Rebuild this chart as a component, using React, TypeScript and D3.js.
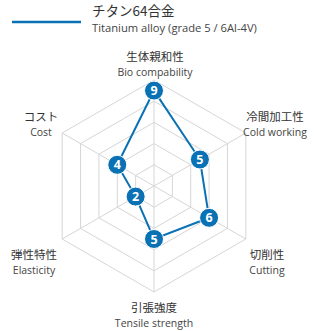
import React from "react";
import * as d3 from "d3";

const axesJa = ["生体親和性", "冷間加工性", "切削性", "引張強度", "弾性特性", "コスト"];
const axesEn = ["Bio compability", "Cold working", "Cutting", "Tensile strength", "Elasticity", "Cost"];
const values = [9, 5, 6, 5, 2, 4];
const gridLevels = [2, 4, 6, 8, 10];
const seriesJa = "チタン64合金";
const seriesEn = "Titanium alloy (grade 5 / 6Al-4V)";

const width = 320;
const height = 331;
const cx = 154;
const cy = 186;
const blue = "#0a71b4";
const font = "'Noto Sans CJK JP', 'Noto Sans', sans-serif";
const fontEn = "'Open Sans', 'Noto Sans', sans-serif";

// label positions (baseline of the Japanese line)
const labelPos = [
  { x: 155, y: 61 },
  { x: 275, y: 121 },
  { x: 267, y: 259 },
  { x: 154, y: 312 },
  { x: 34, y: 259 },
  { x: 41, y: 121 },
];

function App() {
  const r = d3.scaleLinear().domain([0, 10]).range([0, 106]);
  const angle = d3
    .scaleLinear()
    .domain([0, axesJa.length])
    .range([0, 2 * Math.PI]);

  const radial = d3
    .lineRadial<number>()
    .angle((d, i) => angle(i))
    .radius((d) => r(d))
    .curve(d3.curveLinearClosed);

  const pt = (v: number, i: number) => [
    Math.sin(angle(i)) * r(v),
    -Math.cos(angle(i)) * r(v),
  ];

  return (
    <svg
      width={width}
      height={height}
      style={{ position: "absolute", left: 0, top: 0, background: "#fff" }}
      fontFamily={font}
    >
      {/* legend */}
      <line x1={12} x2={81} y1={22} y2={22} stroke={blue} strokeWidth={2.5} />
      <text x={92} y={16} fontSize={13.5} fill="#333">
        {seriesJa}
      </text>
      <text x={92} y={32} fontSize={11.2} fill="#444" fontFamily={fontEn}>
        {seriesEn}
      </text>

      <g transform={`translate(${cx},${cy})`}>
        {/* grid rings */}
        {gridLevels.map((lv) => (
          <path
            key={lv}
            d={radial(axesJa.map(() => lv)) ?? ""}
            fill="none"
            stroke="#d6d6d6"
            strokeWidth={1}
          />
        ))}
        {/* spokes */}
        {axesJa.map((a, i) => {
          const [x, y] = pt(10, i);
          return <line key={a} x1={0} y1={0} x2={x} y2={y} stroke="#d6d6d6" strokeWidth={1} />;
        })}
        {/* series */}
        <path d={radial(values) ?? ""} fill="none" stroke={blue} strokeWidth={2} />
        {values.map((v, i) => {
          const [x, y] = pt(v, i);
          return (
            <g key={i} transform={`translate(${x},${y})`}>
              <circle r={9.5} fill={blue} stroke="#fff" strokeWidth={1} />
              <text
                textAnchor="middle"
                dy="0.36em"
                fontSize={12.5}
                fontWeight="bold"
                fill="#fff"
                fontFamily="'Noto Sans', sans-serif"
              >
                {v}
              </text>
            </g>
          );
        })}
      </g>

      {/* axis labels */}
      {axesJa.map((a, i) => (
        <g key={a}>
          <text x={labelPos[i].x} y={labelPos[i].y} textAnchor="middle" fontSize={11.5} fill="#333">
            {a}
          </text>
          <text
            x={labelPos[i].x}
            y={labelPos[i].y + 15}
            textAnchor="middle"
            fontSize={10.5}
            fill="#444"
            fontFamily={fontEn}
          >
            {axesEn[i]}
          </text>
        </g>
      ))}
    </svg>
  );
}

export default App;
